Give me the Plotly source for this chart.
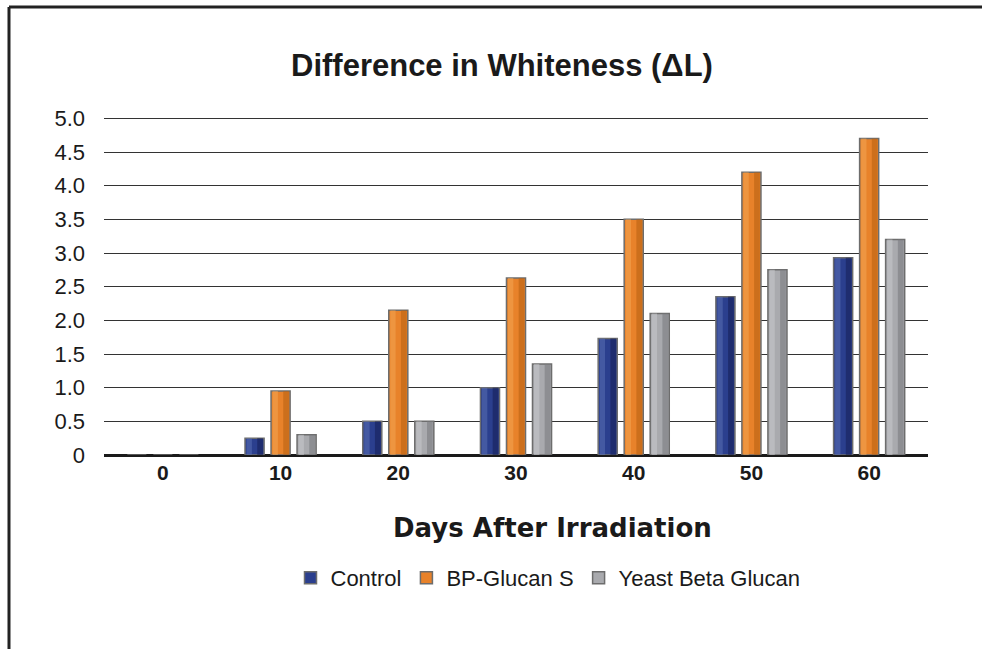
import plotly.graph_objects as go

# Whiteness shift (ΔL) measured at each interval after irradiation
days = [0, 10, 20, 30, 40, 50, 60]
control = [0, 0.25, 0.50, 1.00, 1.73, 2.35, 2.93]
bp_glucan_s = [0, 0.95, 2.15, 2.63, 3.50, 4.20, 4.70]
yeast_beta_glucan = [0, 0.30, 0.50, 1.35, 2.10, 2.75, 3.20]
y_ticks = [0, 0.5, 1.0, 1.5, 2.0, 2.5, 3.0, 3.5, 4.0, 4.5, 5.0]
y_tick_text = ["0", "0.5", "1.0", "1.5", "2.0", "2.5", "3.0", "3.5", "4.0", "4.5", "5.0"]

series = [
    ("Control", control, "#2b3f8e", "#5a70b4", "#17215a"),
    ("BP-Glucan S", bp_glucan_s, "#e8822a", "#f3a553", "#bb6313"),
    ("Yeast Beta Glucan", yeast_beta_glucan, "#a9aaae", "#c9cacd", "#7b7c80"),
]

BAR_W = 1.62      # bar width in x units
STEP = 2.21       # distance between bar centres inside a group

fig = go.Figure()
for i, (name, vals, mid, light, dark) in enumerate(series):
    centre = (i - 1) * STEP
    left = centre - BAR_W / 2
    # main body of the bar
    fig.add_trace(go.Bar(
        x=days, y=vals, name=name, width=BAR_W, offset=left,
        marker=dict(color=mid, line=dict(color="#6d6d6d", width=1.5)),
        showlegend=True,
    ))
    # light bevel on the left side
    fig.add_trace(go.Bar(
        x=days, y=vals, width=BAR_W * 0.28, offset=left + BAR_W * 0.08,
        marker=dict(color=light, line=dict(width=0)), opacity=0.55,
        showlegend=False, hoverinfo="skip",
    ))
    # shaded right side
    fig.add_trace(go.Bar(
        x=days, y=vals, width=BAR_W * 0.3, offset=left + BAR_W * 0.64,
        marker=dict(color=dark, line=dict(width=0)), opacity=0.6,
        showlegend=False, hoverinfo="skip",
    ))

# frame lines along the top and left edges
fig.add_shape(type="line", xref="paper", yref="paper",
              x0=-0.1153, x1=1.08, y0=1.3254, y1=1.3254,
              line=dict(color="#222222", width=3))
fig.add_shape(type="line", xref="paper", yref="paper",
              x0=-0.1153, x1=-0.1153, y0=1.3254, y1=-0.6,
              line=dict(color="#222222", width=3))

fig.add_annotation(
    text="<b>Difference in Whiteness (ΔL)</b>", xref="paper", yref="paper",
    x=(502 - 104) / 824, y=(455 - 65) / 338, xanchor="center", yanchor="middle",
    showarrow=False, font=dict(family="Liberation Sans, Arial, sans-serif", size=31, color="#1a1a1a"),
)
fig.add_annotation(
    text="<b>Days After Irradiation</b>", xref="paper", yref="paper",
    x=(552 - 104) / 824, y=(455 - 528) / 338, xanchor="center", yanchor="middle",
    showarrow=False, font=dict(family="DejaVu Sans, sans-serif", size=26, color="#1a1a1a"),
)

fig.update_layout(
    width=982, height=649,
    margin=dict(l=104, r=54, t=117, b=194),
    paper_bgcolor="white", plot_bgcolor="white",
    barmode="overlay",
    font=dict(family="Liberation Sans, Arial, sans-serif", color="#1a1a1a"),
    legend=dict(
        orientation="h", x=(548 - 104) / 824, y=-(578 - 455) / 338,
        xanchor="center", yanchor="middle",
        font=dict(size=22, color="#1a1a1a"), traceorder="normal",
    ),
    xaxis=dict(
        range=[-5, 65], tickmode="array", tickvals=days,
        ticktext=[f"<b>{d}</b>" for d in days],
        tickfont=dict(size=21, color="#1a1a1a"),
        showgrid=False, zeroline=False, showline=False, ticks="",
        ticklabelstandoff=3,
    ),
    yaxis=dict(
        range=[0, 5.02], tickmode="array", tickvals=y_ticks, ticktext=y_tick_text,
        tickfont=dict(size=22, color="#1a1a1a"),
        showgrid=True, gridcolor="#333333", gridwidth=1.2,
        zeroline=True, zerolinecolor="#1a1a1a", zerolinewidth=2.6,
        showline=False, ticks="", ticklabelstandoff=18,
    ),
)

fig.write_html("out.html")
